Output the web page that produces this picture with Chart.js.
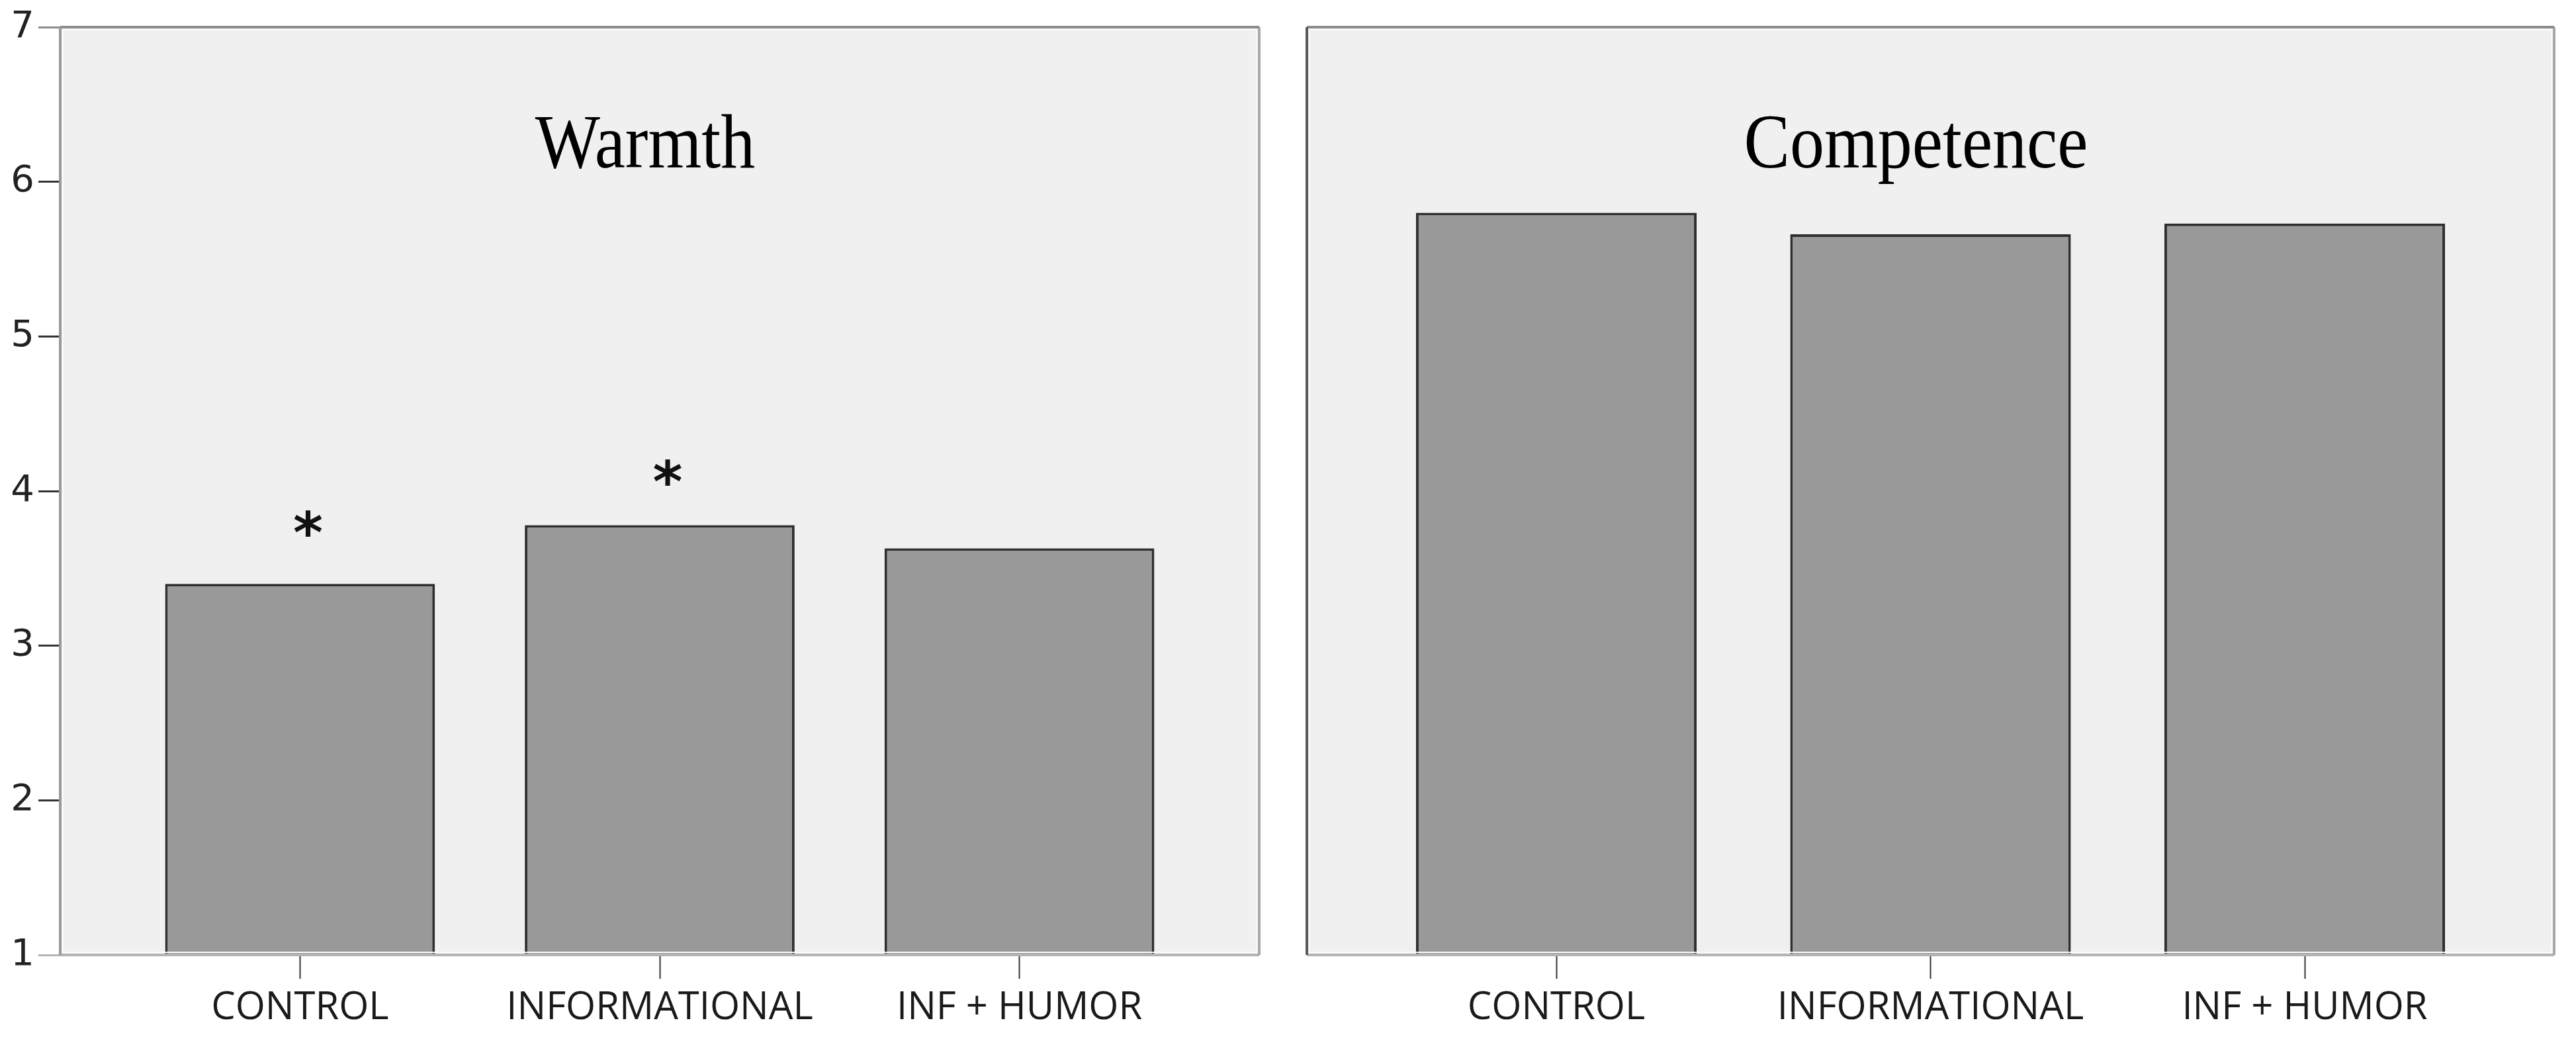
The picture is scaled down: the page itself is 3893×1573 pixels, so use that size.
<!DOCTYPE html>
<html>
<head>
<meta charset="utf-8">
<script src="https://cdn.jsdelivr.net/npm/chart.js@4"></script>
<style>
  body { margin: 0; background: #fff; }
  #wrap { position: relative; width: 3893px; height: 1573px; }
  canvas { position: absolute; top: 0; }
</style>
</head>
<body>
<div id="wrap">
  <canvas id="warmth" width="1910" height="1573" style="left:0px"></canvas>
  <canvas id="competence" width="1933" height="1573" style="left:1960px"></canvas>
</div>
<script>
// values (scale 1..7)
const categories = ['CONTROL', 'INFORMATIONAL', 'INF + HUMOR'];
const warmthMeans = [3.40, 3.78, 3.63];
const competenceMeans = [5.80, 5.66, 5.73];
// significance marks above the warmth bars (y level of the star)
const warmthStarLevels = [3.80, 4.13, null];
const yTicks = [1, 2, 3, 4, 5, 6, 7];

// draws the grey panel, its frame and the panel title
const panelPlugin = {
    id: 'panel',
    beforeDatasetsDraw(chart, args, opts) {
        const a = chart.chartArea, ctx = chart.ctx;
        ctx.save();
        ctx.fillStyle = '#f0f0f0';
        ctx.fillRect(a.left, a.top, a.right - a.left, a.bottom - a.top);
        // title text is a little taller than wide in the original
        ctx.translate((a.left + a.right) / 2 - 22, a.top + 212);
        ctx.scale(1, 1.12);
        ctx.fillStyle = '#000';
        ctx.font = '104px "Liberation Serif"';
        ctx.textAlign = 'center';
        ctx.textBaseline = 'alphabetic';
        ctx.fillText(opts.title, 0, 0);
        ctx.restore();
    },
    afterDatasetsDraw(chart, args, opts) {
        const a = chart.chartArea, ctx = chart.ctx;
        ctx.save();
        // soft inner highlight
        ctx.strokeStyle = '#fafafa';
        ctx.lineWidth = 2;
        ctx.strokeRect(a.left + 4, a.top + 4, a.right - a.left - 8, a.bottom - a.top - 8);
        ctx.lineWidth = 4;
        ctx.strokeStyle = '#b4b4b4';
        ctx.beginPath(); ctx.moveTo(a.left, a.bottom); ctx.lineTo(a.right, a.bottom); ctx.stroke();
        ctx.strokeStyle = '#a8a8a8';
        ctx.beginPath(); ctx.moveTo(a.right, a.top); ctx.lineTo(a.right, a.bottom); ctx.stroke();
        ctx.strokeStyle = '#8c8c8c';
        ctx.beginPath(); ctx.moveTo(a.left, a.top); ctx.lineTo(a.right, a.top); ctx.stroke();
        ctx.strokeStyle = opts.leftColor;
        ctx.beginPath(); ctx.moveTo(a.left, a.top); ctx.lineTo(a.left, a.bottom); ctx.stroke();
        ctx.restore();
    }
};

const starPlugin = {
    id: 'stars',
    afterDatasetsDraw(chart, args, opts) {
        if (!opts.levels) return;
        const ctx = chart.ctx, meta = chart.getDatasetMeta(0), y = chart.scales.y;
        ctx.save();
        ctx.fillStyle = '#111';
        ctx.font = 'bold 86px "DejaVu Sans"';
        ctx.textAlign = 'center';
        ctx.textBaseline = 'middle';
        opts.levels.forEach((lv, i) => {
            if (lv == null) return;
            ctx.fillText('*', meta.data[i].x + 12, y.getPixelForValue(lv) + 24);
        });
        ctx.restore();
    }
};

function makePanel(canvasId, title, values, showY, padRight, yWidth, leftColor, starLevels) {
    return new Chart(document.getElementById(canvasId), {
        type: 'bar',
        data: {
            datasets: [{
                data: values.map((v, i) => ({ x: i, y: v })),
                backgroundColor: '#999999',
                borderColor: '#2e2e2e',
                borderWidth: 4,
                borderSkipped: 'start',
                barPercentage: 0.75,
                categoryPercentage: 1.0
            }]
        },
        options: {
            responsive: false,
            devicePixelRatio: 1,
            animation: false,
            layout: { padding: { top: 41, right: padRight, left: 0, bottom: 0 } },
            plugins: {
                legend: { display: false },
                tooltip: { enabled: false },
                panel: { title: title, leftColor: leftColor },
                stars: { levels: starLevels }
            },
            scales: {
                x: {
                    type: 'linear',
                    min: -2 / 3,
                    max: 2 + 2 / 3,
                    offset: false,
                    afterBuildTicks: s => { s.ticks = categories.map((c, i) => ({ value: i })); },
                    afterFit: s => { s.height = 130; },
                    border: { display: false },
                    grid: {
                        offset: false,
                        drawOnChartArea: false,
                        drawTicks: true,
                        tickLength: 36,
                        tickColor: '#333',
                        tickWidth: 2
                    },
                    ticks: {
                        autoSkip: false,
                        maxRotation: 0,
                        padding: 10,
                        color: '#1a1a1a',
                        font: { family: 'Open Sans', size: 58 },
                        callback: v => categories[v]
                    }
                },
                y: {
                    min: 1,
                    max: 7,
                    afterBuildTicks: s => { s.ticks = yTicks.map(v => ({ value: v })); },
                    afterFit: s => { s.width = yWidth; },
                    border: { display: false },
                    grid: {
                        display: showY,
                        drawOnChartArea: false,
                        drawTicks: true,
                        tickLength: 33,
                        tickWidth: 3,
                        tickColor: c => c.tick.value === 7 ? '#8c8c8c' : (c.tick.value === 1 ? '#b4b4b4' : '#333')
                    },
                    ticks: {
                        display: showY,
                        padding: 6,
                        color: '#222',
                        font: { family: 'DejaVu Sans', size: 56 }
                    }
                }
            }
        },
        plugins: [panelPlugin, starPlugin]
    });
}

makePanel('warmth', 'Warmth', warmthMeans, true, 7, 91, '#9a9a9a', warmthStarLevels);
makePanel('competence', 'Competence', competenceMeans, false, 33, 15, '#5a5a5a', null);
</script>
</body>
</html>
